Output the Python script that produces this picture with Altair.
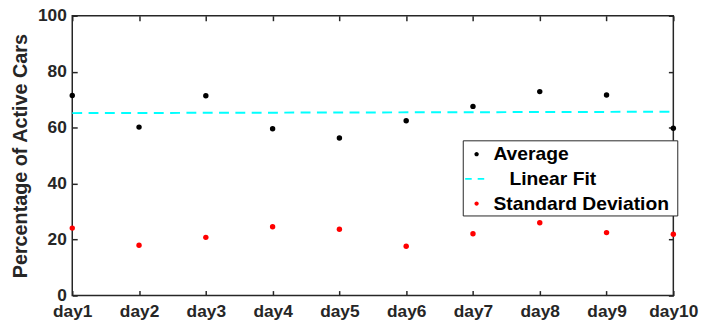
import json
import altair as alt
import pandas as pd

days = ["day1", "day2", "day3", "day4", "day5", "day6", "day7", "day8", "day9", "day10"]
average = [71.5, 60.2, 71.4, 59.6, 56.3, 62.5, 67.6, 72.9, 71.7, 59.8]
std_dev = [24.1, 18.0, 20.8, 24.6, 23.7, 17.6, 22.1, 26.0, 22.5, 21.9]
fit_days = ["day1", "day10"]
fit_values = [65.2, 65.7]
series_names = ["Average", "Linear Fit", "Standard Deviation"]
series_colors = ["#000000", "#00FFFF", "#FF0000"]
y_ticks = [0, 20, 40, 60, 80, 100]
y_title = "Percentage of Active Cars"

rows = []
for d, a, s in zip(days, average, std_dev):
    rows.append({"idx": days.index(d) + 1, "value": a, "series": "Average"})
    rows.append({"idx": days.index(d) + 1, "value": s, "series": "Standard Deviation"})
pts = pd.DataFrame(rows)
fit = pd.DataFrame({"idx": [days.index(d) + 1 for d in fit_days], "value": fit_values})

FONT = "Liberation Sans"
INK = "#262626"
LEG_DOT = "M-0.2,0A0.2,0.2,0,1,1,0.2,0A0.2,0.2,0,1,1,-0.2,0Z"
DASH = "M-1.05,0H-0.45M0.1,0H0.7"
NB = "\u00a0"
ZW = "\u200b"

x_label_expr = json.dumps(days) + "[datum.value - 1]"
x_scale = alt.Scale(domain=[1, len(days)], nice=False, zero=False)
y_scale = alt.Scale(domain=[y_ticks[0], y_ticks[-1]], nice=False)

tick_common = dict(
    domain=False, grid=False, offset=-5, tickSize=5, tickWidth=1.5, tickColor=INK,
    labelFont=FONT, labelFontSize=17.5, labelFontWeight="bold", labelColor=INK,
    labelOverlap=False, labelFlush=False,
)
tick_only = {k: v for k, v in tick_common.items() if not k.startswith("label")}

legend = alt.Legend(
    title=None, orient="none", legendX=395, legendY=126, direction="vertical",
    padding=2, strokeColor=INK, fillColor="white", symbolSize=484,
    symbolType={"expr": f"datum.value === 'Linear Fit' ? '{DASH}' : '{LEG_DOT}'"},
    symbolStrokeColor={"expr": "datum.value === 'Linear Fit' ? '#00FFFF' : 'transparent'"},
    symbolStrokeWidth=2, symbolOpacity=1,
    labelFont=FONT, labelFontSize=19.5, labelFontWeight="bold", labelColor="black",
    labelOffset=5, rowPadding=3, labelLimit=400,
    labelExpr=(f"(datum.value === 'Linear Fit' ? '{ZW}{NB*3}' : '') + datum.label + '{NB}{ZW}'"),
)

points = alt.Chart(pts).mark_point(filled=True, size=30, shape="circle", opacity=1).encode(
    x=alt.X("idx:Q", scale=x_scale,
            axis=alt.Axis(values=list(range(1, len(days) + 1)), labelExpr=x_label_expr,
                          labelPadding=7, title=None, **tick_common)),
    y=alt.Y("value:Q", scale=y_scale,
            axis=alt.Axis(values=y_ticks, labelPadding=6, title=y_title, titleFont=FONT,
                          titleFontSize=20, titleFontWeight="bold", titleColor=INK,
                          titlePadding=7, **tick_common)),
    color=alt.Color("series:N", scale=alt.Scale(domain=series_names, range=series_colors), legend=legend),
)

fit_line = alt.Chart(fit).mark_line(color="#00FFFF", strokeWidth=2, strokeDash=[10, 6.5]).encode(
    x=alt.X("idx:Q", scale=x_scale,
            axis=alt.Axis(orient="top", values=list(range(1, len(days) + 1)), labels=False,
                          title=None, **tick_only)),
    y=alt.Y("value:Q", scale=y_scale,
            axis=alt.Axis(orient="right", values=y_ticks, labels=False, title=None, **tick_only)),
)

chart = alt.layer(fit_line, points).resolve_axis(x="independent", y="independent").properties(
    width=608, height=283,
    autosize=alt.AutoSizeParams(type="none"),
    padding={"left": 65, "top": 6, "right": 29, "bottom": 33},
    background="white",
).configure_view(stroke=INK, strokeWidth=1.5)

chart.save("out.html", embed_options={"renderer": "svg", "actions": False})
